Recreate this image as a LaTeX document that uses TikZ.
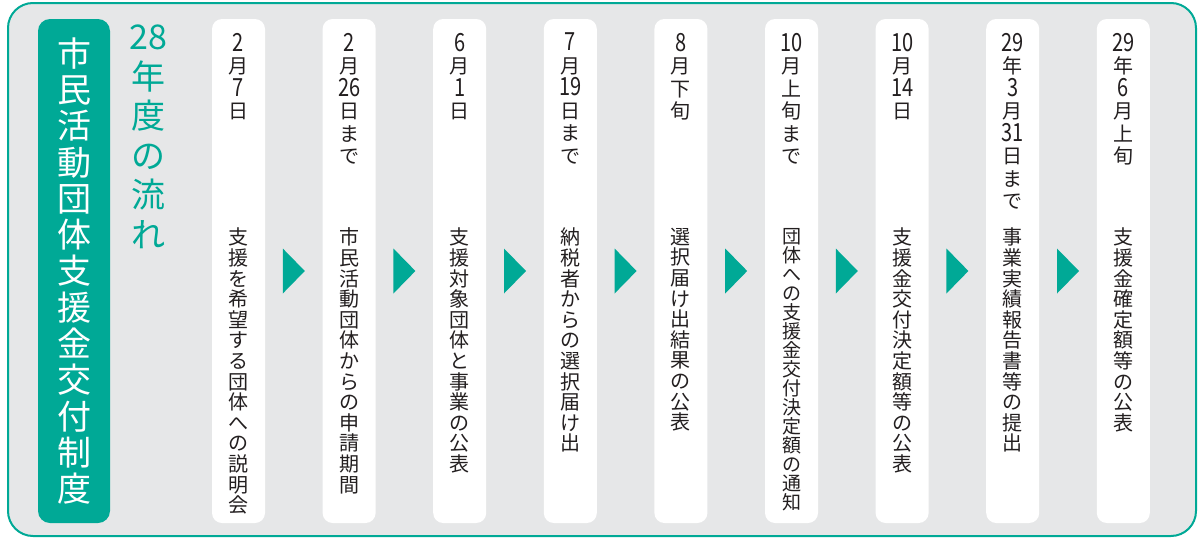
\documentclass[tikz,border=0pt]{standalone}
\usepackage{fontspec}
\usepackage{graphicx}
\newfontfamily\jpfont{Noto Sans CJK JP}
\newcommand{\tnum}[1]{\scalebox{1}[1.25]{#1}}
\definecolor{flowteal}{RGB}{0, 169, 150}
\definecolor{flowgray}{RGB}{230, 231, 232}
\definecolor{flowtext}{RGB}{35, 31, 32}
\usepackage{tikz}
\usetikzlibrary{positioning, calc}
\tikzset{
  colbox/.style={fill=white, rounded corners=10pt, minimum width=53pt, minimum height=504pt, inner sep=0pt},
  datetext/.style={text=flowtext, align=center, inner sep=0pt, font=\jpfont\fontsize{20}{22.5}\selectfont},
  desctext/.style={text=flowtext, align=center, inner sep=0pt, font=\jpfont\fontsize{20}{20.6}\selectfont},
  bigtext/.style={align=center, inner sep=0pt, font=\jpfont\fontsize{34}{36.3}\selectfont}
}

\begin{document}
\begin{tikzpicture}[x=1pt, y=-1pt]
  \useasboundingbox (0,0) rectangle (1200,538);
  \draw[flowteal, line width=2pt, fill=flowgray, rounded corners=25pt] (8,3) rectangle (1196,536);

  \node[fill=flowteal, rounded corners=12pt, minimum width=72pt, minimum height=504pt, inner sep=0pt] (title) at (74,271) {};
  \node[bigtext, text=white] (titletext) at (title.center) {市\\民\\活\\動\\団\\体\\支\\援\\金\\交\\付\\制\\度};
  \node[bigtext, text=flowteal, anchor=north, font=\jpfont\fontsize{34}{39.5}\selectfont] (year) at (148,25) {28\\年\\度\\の\\流\\れ};

  \foreach \i in {1,...,9}
    \node[colbox] (b\i) at ({238.5+110.6*(\i-1)},271) {};
  \foreach \i [evaluate=\i as \j using int(\i+1)] in {1,...,8}
    \fill[flowteal] ($(b\i.east)!0.5!(b\j.west)$) ++(-11pt,-22.5pt) -- ++(22pt,22.5pt) -- ++(-22pt,22.5pt) -- cycle;

  \node[datetext, below=14pt of b1.north] (d1) {\tnum{2}\\月\\\tnum{7}\\日};
  \node[datetext, below=14pt of b2.north] (d2) {\tnum{2}\\月\\\tnum{26}\\日\\ま\\で};
  \node[datetext, below=14pt of b3.north] (d3) {\tnum{6}\\月\\\tnum{1}\\日};
  \node[datetext, below=14pt of b4.north] (d4) {\tnum{7}\\月\\\tnum{19}\\日\\ま\\で};
  \node[datetext, below=14pt of b5.north] (d5) {\tnum{8}\\月\\下\\旬};
  \node[datetext, below=14pt of b6.north] (d6) {\tnum{10}\\月\\上\\旬\\ま\\で};
  \node[datetext, below=14pt of b7.north] (d7) {\tnum{10}\\月\\\tnum{14}\\日};
  \node[datetext, below=14pt of b8.north] (d8) {\tnum{29}\\年\\\tnum{3}\\月\\\tnum{31}\\日\\ま\\で};
  \node[datetext, below=14pt of b9.north] (d9) {\tnum{29}\\年\\\tnum{6}\\月\\上\\旬};

  \node[desctext, below=209pt of b1.north] (t1) {支\\援\\を\\希\\望\\す\\る\\団\\体\\へ\\の\\説\\明\\会};
  \node[desctext, below=209pt of b2.north] (t2) {市\\民\\活\\動\\団\\体\\か\\ら\\の\\申\\請\\期\\間};
  \node[desctext, below=209pt of b3.north] (t3) {支\\援\\対\\象\\団\\体\\と\\事\\業\\の\\公\\表};
  \node[desctext, below=209pt of b4.north] (t4) {納\\税\\者\\か\\ら\\の\\選\\択\\届\\け\\出};
  \node[desctext, below=209pt of b5.north] (t5) {選\\択\\届\\け\\出\\結\\果\\の\\公\\表};
  \node[desctext, below=209pt of b6.north, font=\jpfont\fontsize{19}{19}\selectfont] (t6) {団\\体\\へ\\の\\支\\援\\金\\交\\付\\決\\定\\額\\の\\通\\知};
  \node[desctext, below=209pt of b7.north] (t7) {支\\援\\金\\交\\付\\決\\定\\額\\等\\の\\公\\表};
  \node[desctext, below=209pt of b8.north] (t8) {事\\業\\実\\績\\報\\告\\書\\等\\の\\提\\出};
  \node[desctext, below=209pt of b9.north] (t9) {支\\援\\金\\確\\定\\額\\等\\の\\公\\表};
\end{tikzpicture}
\end{document}
